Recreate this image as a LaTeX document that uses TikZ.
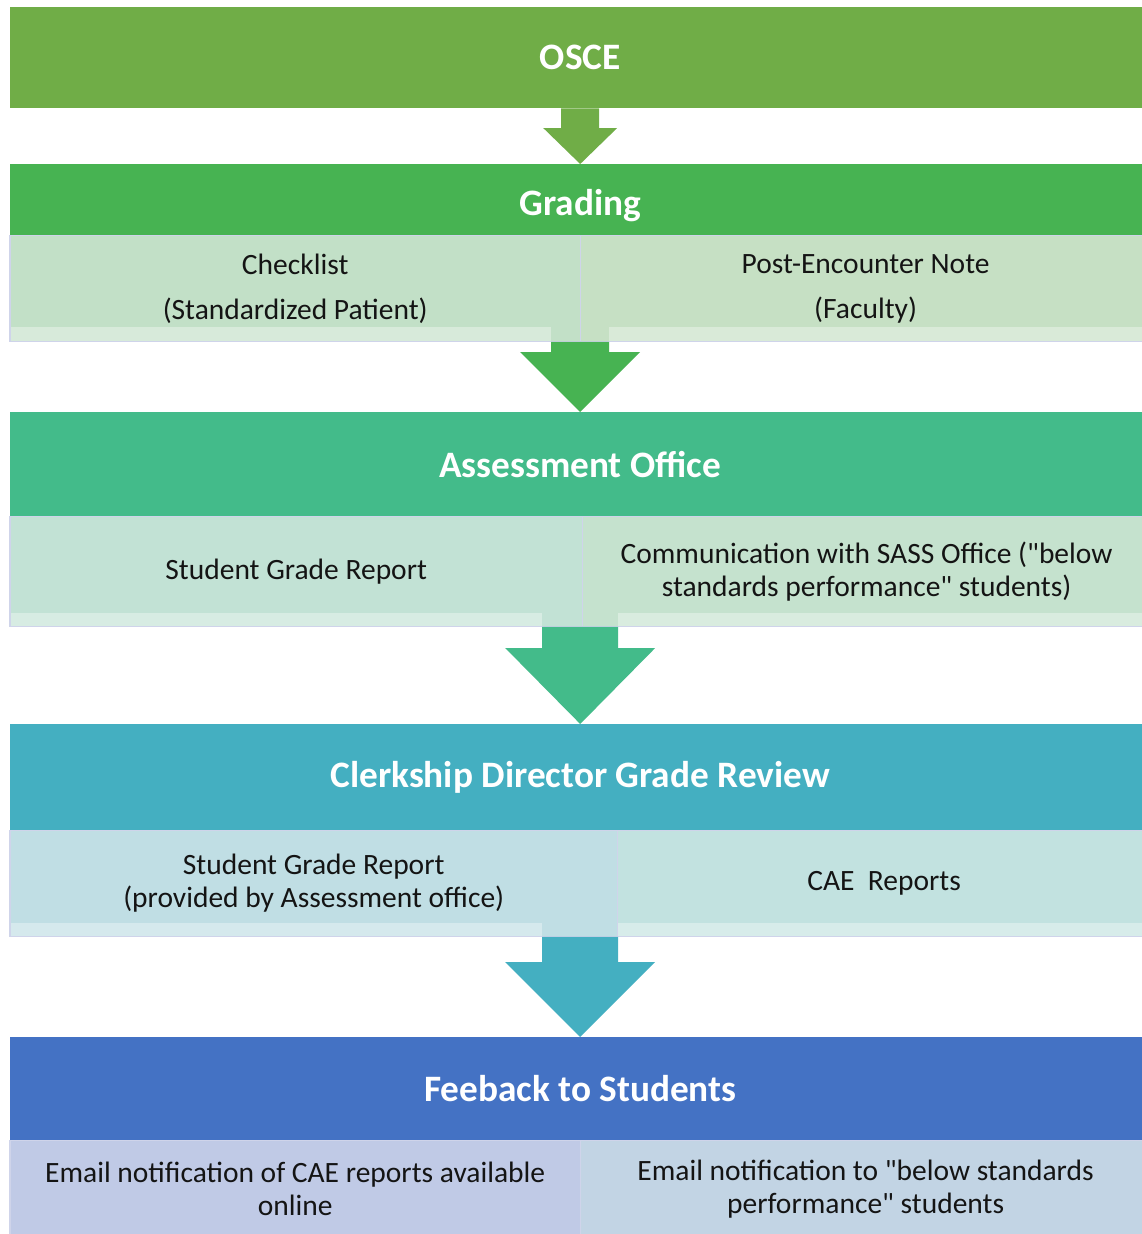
\documentclass[tikz,border=0pt]{standalone}
\usepackage{fontspec}
\setmainfont{Carlito}
\usetikzlibrary{calc,positioning}

\definecolor{osceGreen}{RGB}{112,173,71}
\definecolor{gradeGreen}{RGB}{71,179,82}
\definecolor{assessTeal}{RGB}{67,187,138}
\definecolor{clerkBlue}{RGB}{68,175,193}
\definecolor{feedBlue}{RGB}{68,114,196}
\definecolor{gradeL}{RGB}{194,224,199}
\definecolor{gradeR}{RGB}{198,224,196}
\definecolor{assessL}{RGB}{194,226,213}
\definecolor{assessR}{RGB}{197,226,206}
\definecolor{clerkL}{RGB}{192,222,228}
\definecolor{clerkR}{RGB}{194,226,224}
\definecolor{feedL}{RGB}{192,202,230}
\definecolor{feedR}{RGB}{194,212,228}
\definecolor{lineLav}{RGB}{207,212,234}

% block arrow: colour, from, to, shaft half width, head half width, head length
\newcommand{\blockarrow}[6]{%
	\fill[#1] ($(#2)+(-#4,0)$) -- ($(#2)+(#4,0)$) -- ($(#3)+(#4,#6)$) -- ($(#3)+(#5,#6)$)
		-- (#3) -- ($(#3)+(-#5,#6)$) -- ($(#3)+(-#4,#6)$) -- cycle;}
\newcommand{\qt}{\textquotedbl}

\tikzset{
	band/.style={rectangle, anchor=north west, minimum width=1140pt, inner sep=0pt,
		text=white, font=\fontsize{37.3}{44}\selectfont\bfseries},
	sub/.style={rectangle, anchor=north west, inner sep=0pt, align=center,
		text=black!92, font=\fontsize{29.5}{33}\selectfont},
	subline/.style={draw=lineLav, line width=1.3pt},
	strip/.style={white, opacity=0.35}
}

\begin{document}
\begin{tikzpicture}[x=1pt, y=1pt]
	\useasboundingbox (0,0) rectangle (1141,-1234);
	
	\node[band, fill=osceGreen, minimum height=101pt] (osce) at (10,-7) {OSCE};
	
	\node[band, fill=gradeGreen, minimum height=71pt, text height=31pt, text depth=0pt] (grading) at (10,-164) {Grading};
	\node[sub, fill=gradeL, minimum width=570pt, minimum height=106pt, font=\fontsize{29.5}{45}\selectfont] (checklist) at (grading.south west) {Checklist\\(Standardized Patient)};
	\node[sub, fill=gradeR, minimum width=570pt, minimum height=106pt, font=\fontsize{29.5}{45}\selectfont] (penote) at (checklist.north east) {Post-Encounter Note\\(Faculty)};
	
	\node[band, fill=assessTeal, minimum height=104pt] (assess) at (10,-412) {Assessment Office};
	\node[sub, fill=assessL, minimum width=572pt, minimum height=110pt] (sgr) at (assess.south west) {Student Grade Report};
	\node[sub, fill=assessR, minimum width=568pt, minimum height=110pt] (sass) at (sgr.north east) {Communication with SASS Office (\qt below\\standards performance\qt\ students)};
	
	\node[band, fill=clerkBlue, minimum height=106pt] (clerk) at (10,-724) {Clerkship Director Grade Review};
	\node[sub, fill=clerkL, minimum width=607pt, minimum height=106pt] (sgrcd) at (clerk.south west) {Student Grade Report\\(provided by Assessment office)};
	\node[sub, fill=clerkR, minimum width=533pt, minimum height=106pt] (cae) at (sgrcd.north east) {CAE~~Reports};
	
	\node[band, fill=feedBlue, minimum height=103pt] (feed) at (10,-1037) {Feeback to Students};
	\node[sub, fill=feedL, minimum width=570pt, minimum height=97pt] (mailcae) at (feed.south west) {Email notification of CAE reports available\\online};
	\node[sub, fill=feedR, minimum width=570pt, minimum height=97pt] (mailbsp) at (mailcae.north east) {Email notification to \qt below standards\\performance\qt\ students};
	
	% arrow tails under the boxes
	\coordinate (a2from) at (grading.south |- checklist.south);
	\coordinate (a3from) at (assess.south |- sgr.south);
	\coordinate (a4from) at (clerk.south |- sgrcd.south);
	
	% lighter strip at the foot of each box
	\fill[strip] (checklist.south west) rectangle ($(a2from)+(-29,15)$);
	\fill[strip] ($(a2from)+(29,15)$) rectangle (penote.south east);
	\fill[strip] (sgr.south west) rectangle ($(a3from)+(-38,14)$);
	\fill[strip] ($(a3from)+(38,14)$) rectangle (sass.south east);
	\fill[strip] (sgrcd.south west) rectangle ($(a4from)+(-38,14)$);
	\fill[strip] ($(a4from)+(38,14)$) rectangle (cae.south east);
	
	\foreach \b in {checklist,penote,sgr,sass,sgrcd,cae,mailcae,mailbsp}
		\draw[subline] (\b.south west) rectangle (\b.north east);
	
	\blockarrow{osceGreen}{osce.south}{grading.north}{19}{37}{36}
	\blockarrow{gradeGreen}{a2from}{assess.north}{29}{60}{60}
	\blockarrow{assessTeal}{a3from}{clerk.north}{38}{75}{76}
	\blockarrow{clerkBlue}{a4from}{feed.north}{38}{75}{75}
\end{tikzpicture}
\end{document}
